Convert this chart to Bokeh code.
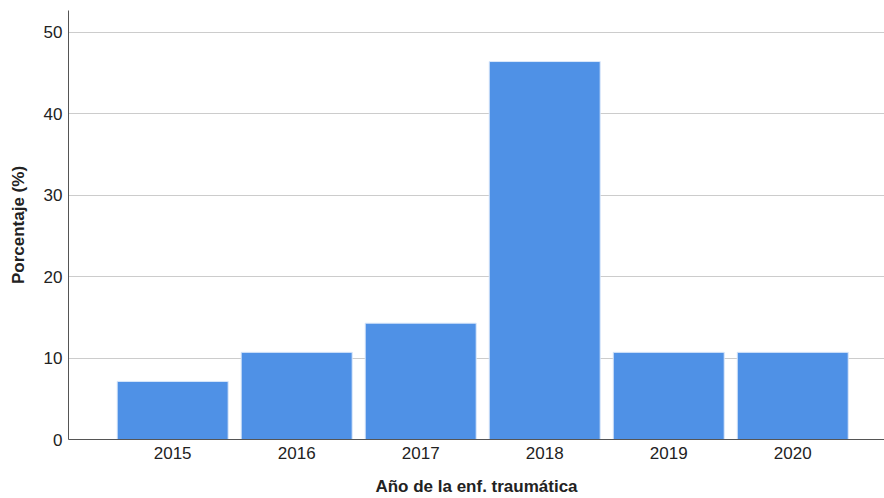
from bokeh.plotting import figure
from bokeh.models import Range1d, FixedTicker, ColumnDataSource
from bokeh.embed import file_html
from bokeh.resources import INLINE

years = ["2015", "2016", "2017", "2018", "2019", "2020"]
percent = [7.14, 10.71, 14.29, 46.43, 10.71, 10.71]
y_ticks = [0, 10, 20, 30, 40, 50]

pos = list(range(len(years)))
src = ColumnDataSource(dict(x=pos, top=percent))

p = figure(width=884, height=498, output_backend="svg", toolbar_location=None,
           x_range=Range1d(-0.84, len(years) - 1 + 0.74), y_range=Range1d(0, 52.7),
           min_border_left=68, min_border_right=0, min_border_top=10, min_border_bottom=0)
p.outline_line_color = None
p.background_fill_color = "white"

p.vbar(x="x", top="top", width=0.895, source=src, fill_color="#4f91e6",
       line_color="#dbe8fa", line_width=1)

font = "Liberation Sans"
p.xaxis.ticker = FixedTicker(ticks=pos)
p.xaxis.major_label_overrides = {i: y for i, y in enumerate(years)}
p.yaxis.ticker = FixedTicker(ticks=y_ticks)
for ax in (p.xaxis, p.yaxis):
    ax.major_tick_line_color = None
    ax.minor_tick_line_color = None
    ax.major_tick_out = 0
    ax.major_tick_in = 0
    ax.minor_tick_out = 0
    ax.minor_tick_in = 0
    ax.axis_line_color = "#555555"
    ax.axis_line_width = 1
    ax.major_label_text_font = font
    ax.major_label_text_font_size = "17px"
    ax.major_label_text_color = "#222222"
    ax.axis_label_text_font = font
    ax.axis_label_text_font_style = "bold"
    ax.axis_label_text_font_size = "17px"
    ax.axis_label_text_color = "#222222"

p.xaxis.axis_label = "Año de la enf. traumática"
p.yaxis.axis_label = "Porcentaje (%)"
p.xaxis.major_label_standoff = 7
p.yaxis.major_label_standoff = 6
p.xaxis.axis_label_standoff = 15
p.yaxis.axis_label_standoff = 13

p.xgrid.grid_line_color = None
p.ygrid.ticker = FixedTicker(ticks=y_ticks)
p.ygrid.grid_line_color = "#cccccc"
p.ygrid.grid_line_width = 1
p.ygrid.level = "underlay"

open("out.html", "w").write(file_html(p, INLINE))
